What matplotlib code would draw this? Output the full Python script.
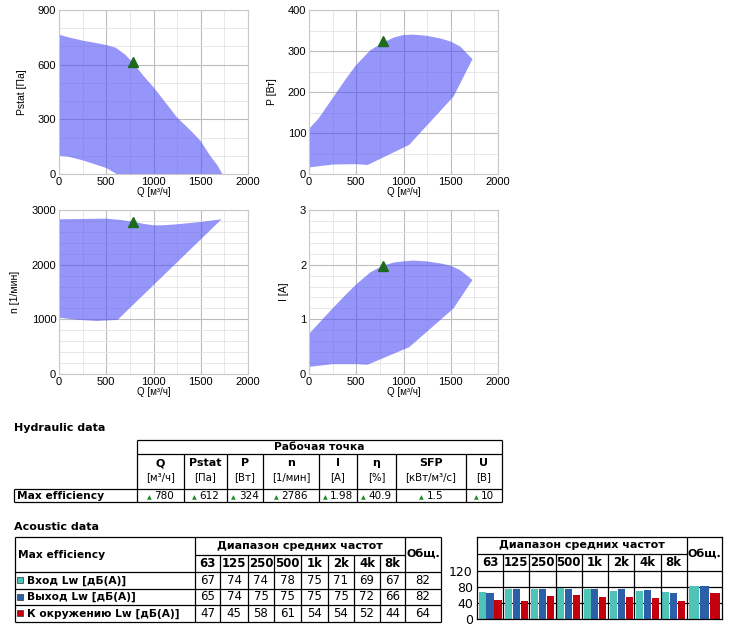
import matplotlib.pyplot as plt
from matplotlib.patches import Rectangle
from matplotlib.offsetbox import TextArea, HPacker, AnnotationBbox

W, H = 746, 636

# ---- performance envelopes (Q in m3/h) ----
p_up_x = [0, 100, 250, 400, 500, 600, 700, 780, 900, 1000, 1100, 1250, 1400, 1500, 1600, 1680, 1728]
p_up_y = [765, 750, 732, 718, 708, 693, 655, 612, 535, 476, 410, 310, 235, 180, 100, 45, 0]
p_lo_x = [0, 100, 250, 400, 500, 610, 1728]
p_lo_y = [100, 95, 75, 50, 33, 0, 0]

w_up_x = [0, 100, 250, 400, 500, 650, 780, 900, 1000, 1100, 1250, 1400, 1500, 1600, 1730]
w_up_y = [110, 135, 185, 235, 266, 302, 320, 333, 339, 340, 337, 330, 323, 311, 280]
w_lo_x = [0, 250, 500, 620, 1060, 1530, 1730]
w_lo_y = [16, 23, 24, 22, 71, 189, 280]

n_up_x = [0, 250, 500, 650, 780, 900, 1000, 1100, 1250, 1500, 1720]
n_up_y = [2830, 2836, 2842, 2818, 2788, 2745, 2720, 2720, 2739, 2781, 2830]
n_lo_x = [0, 200, 400, 620, 1720]
n_lo_y = [1030, 990, 970, 990, 2830]

i_up_x = [0, 100, 250, 400, 500, 650, 780, 900, 1000, 1100, 1250, 1400, 1500, 1600, 1730]
i_up_y = [0.73, 0.92, 1.2, 1.47, 1.64, 1.86, 1.98, 2.04, 2.06, 2.075, 2.06, 2.02, 1.98, 1.90, 1.72]
i_lo_x = [0, 250, 500, 620, 1060, 1530, 1730]
i_lo_y = [0.13, 0.18, 0.18, 0.17, 0.49, 1.2, 1.72]

# operating point
op_q = 780
op_pstat, op_p, op_n, op_i = 612, 324, 2786, 1.98

# ---- hydraulic table ----
hyd_names = ['Q', 'Pstat', 'P', 'n', 'I', 'η', 'SFP', 'U']
hyd_units = ['[м³/ч]', '[Па]', '[Вт]', '[1/мин]', '[A]', '[%]', '[кВт/м³/с]', '[В]']
hyd_values = ['780', '612', '324', '2786', '1.98', '40.9', '1.5', '10']

# ---- acoustic data ----
freq_labels = ['63', '125', '250', '500', '1k', '2k', '4k', '8k']
row_labels = ['Вход Lw [дБ(А)]', 'Выход Lw [дБ(А)]', 'К окружению Lw [дБ(А)]']
lw_in = [67, 74, 74, 78, 75, 71, 69, 67]
lw_out = [65, 74, 75, 75, 75, 75, 72, 66]
lw_env = [47, 45, 58, 61, 54, 54, 52, 44]
lw_total = [82, 82, 64]
row_colors = ['#4ec3b8', '#2b5fa8', '#c4000e']

fig = plt.figure(figsize=(W / 100, H / 100), dpi=100)


def rect_px(l, t, r, b):
    return [l / W, 1 - b / H, (r - l) / W, (b - t) / H]


def perf_plot(box, ux, uy, lx, ly, ymax, ystep, yminor, ylabel, op_y):
    ax = fig.add_axes(rect_px(*box))
    ax.fill(ux + lx[::-1], uy + ly[::-1], color='#5050f7', alpha=0.6, lw=0, zorder=2)
    ax.plot([op_q], [op_y], marker='^', color='#1d6b1d', ms=7, ls='none', zorder=3)
    ax.set_xlim(0, 2000)
    ax.set_ylim(0, ymax)
    ax.set_xticks(range(0, 2001, 500))
    ax.set_xticks(range(0, 2001, 250), minor=True)
    yt = [k * ystep for k in range(int(round(ymax / ystep)) + 1)]
    ym = [k * yminor for k in range(int(round(ymax / yminor)) + 1)]
    ax.set_yticks(yt)
    ax.set_yticks(ym, minor=True)
    ax.set_yticklabels([('%g' % v) for v in yt])
    ax.grid(which='major', color='#bdbdbd', lw=0.8)
    ax.grid(which='minor', color='#e4e4e4', lw=0.6)
    ax.set_axisbelow(True)
    ax.tick_params(which='both', length=0, pad=2, labelsize=8)
    for s in ax.spines.values():
        s.set_color('#c8c8c8')
    for lab in ax.get_xticklabels() + ax.get_yticklabels():
        lab.set_fontfamily('Liberation Sans')
    ax.set_xlabel('Q [м³/ч]', fontsize=7, labelpad=0, family='Liberation Sans')
    ax.set_ylabel(ylabel, fontsize=7.5, labelpad=8, family='Liberation Sans')
    return ax


perf_plot((59, 10, 248, 174), p_up_x, p_up_y, p_lo_x, p_lo_y, 900, 300, 100, 'Pstat [Па]', op_pstat)
perf_plot((309, 10, 498, 174), w_up_x, w_up_y, w_lo_x, w_lo_y, 400, 100, 50, 'P [Вт]', op_p)
perf_plot((59, 210, 248, 374), n_up_x, n_up_y, n_lo_x, n_lo_y, 3000, 1000, 200, 'n [1/мин]', op_n)
perf_plot((309, 210, 498, 374), i_up_x, i_up_y, i_lo_x, i_lo_y, 3, 1, 0.2, 'I [A]', op_i)

# ---- overlay in pixel coordinates for the tables ----
ov = fig.add_axes([0, 0, 1, 1], zorder=-1)
ov.set_xlim(0, W)
ov.set_ylim(H, 0)
ov.axis('off')
LW = 0.9
k = dict(color='black', lw=LW)

# hydraulic table
ov.text(14, 428, 'Hydraulic data', fontsize=8, fontweight='bold', va='center')
hx = [137, 184, 227, 263, 319, 357, 396, 466, 502]
ov.hlines([440, 454], 137, 502, **k)
ov.hlines([489, 502], 14, 502, **k)
ov.vlines([137, 502], 440, 502, **k)
ov.vlines(14, 489, 502, **k)
ov.vlines(hx[1:-1], 454, 502, **k)
ov.text((hx[0] + hx[-1]) / 2, 447, 'Рабочая точка', fontsize=7.7, fontweight='bold', ha='center', va='center')
ov.text(17, 496, 'Max efficiency', fontsize=7.7, fontweight='bold', va='center')
for j in range(len(hyd_names)):
    cx = (hx[j] + hx[j + 1]) / 2
    ov.text(cx, 463, hyd_names[j], fontsize=8, fontweight='bold', ha='center', va='center')
    ov.text(cx, 477, hyd_units[j], fontsize=7.3, ha='center', va='center')
    box = HPacker(children=[TextArea('▲', textprops=dict(color='#1d8a1d', fontsize=4.5)),
                            TextArea(hyd_values[j], textprops=dict(fontsize=7.5))],
                  align='baseline', pad=0, sep=2)
    ov.add_artist(AnnotationBbox(box, (cx, 496), frameon=False, box_alignment=(0.5, 0.5)))

# acoustic table
ov.text(14, 527, 'Acoustic data', fontsize=8, fontweight='bold', va='center')
ax_ = [15, 195, 220, 248, 274, 301, 328, 354, 380, 405, 441]
ay = [537, 555, 572, 589, 605, 622]
ov.hlines([537, 572, 589, 605, 622], 15, 441, **k)
ov.hlines(555, 195, 405, **k)
ov.vlines([15, 195, 405, 441], 537, 622, **k)
ov.vlines(ax_[2:-2], 555, 622, **k)
ov.text(18, 555, 'Max efficiency', fontsize=7.7, fontweight='bold', va='center')
ov.text((195 + 405) / 2, 546, 'Диапазон средних частот', fontsize=8, fontweight='bold', ha='center', va='center')
ov.text(423, 554, 'Общ.', fontsize=8, fontweight='bold', ha='center', va='center')
for j, f in enumerate(freq_labels):
    ov.text((ax_[j + 1] + ax_[j + 2]) / 2, 563.5, f, fontsize=8.5, fontweight='bold', ha='center', va='center')
rows = [lw_in, lw_out, lw_env]
for r in range(3):
    yc = (ay[r + 2] + ay[r + 3]) / 2
    ov.add_patch(Rectangle((17, yc - 3.5), 6, 6, facecolor=row_colors[r], edgecolor='#333333', lw=0.5))
    ov.text(27, yc, row_labels[r], fontsize=7.7, fontweight='bold', va='center')
    for j, v in enumerate(rows[r]):
        ov.text((ax_[j + 1] + ax_[j + 2]) / 2, yc, str(v), fontsize=8.5, ha='center', va='center')
    ov.text((405 + 441) / 2, yc, str(lw_total[r]), fontsize=8.5, ha='center', va='center')

# ---- acoustic bar chart with header ----
bx = fig.add_axes(rect_px(477, 537, 722, 619))
tot_w = 1.34
bx.set_xlim(0, 8 + tot_w)
bx.set_ylim(0, 205)
offs = [0.065, 0.36, 0.665]
bw = 0.27
for r in range(3):
    vals = rows[r] + [lw_total[r]]
    xs = [i + offs[r] * (tot_w if i == 8 else 1) for i in range(9)]
    bx.bar(xs, vals, width=[bw] * 8 + [bw * tot_w], align='edge', color=row_colors[r], lw=0, zorder=2)
bx.hlines([40, 80, 120], 0, 8 + tot_w, color='black', lw=LW, zorder=1)
bx.hlines(162.5, 0, 8, color='black', lw=LW)
bx.vlines(range(1, 8), 0, 162.5, color='black', lw=LW)
bx.vlines(8, 0, 205, color='black', lw=LW)
bx.text(4, 184, 'Диапазон средних частот', fontsize=8, fontweight='bold', ha='center', va='center')
bx.text(8 + tot_w / 2, 162.5, 'Общ.', fontsize=8, fontweight='bold', ha='center', va='center')
for j, f in enumerate(freq_labels):
    bx.text(j + 0.5, 141, f, fontsize=8.5, fontweight='bold', ha='center', va='center')
bx.set_xticks([])
bx.set_yticks([0, 40, 80, 120])
bx.tick_params(axis='y', length=0, pad=3, labelsize=9)
for s in bx.spines.values():
    s.set_linewidth(LW)

fig.savefig('out.png', dpi=100)
